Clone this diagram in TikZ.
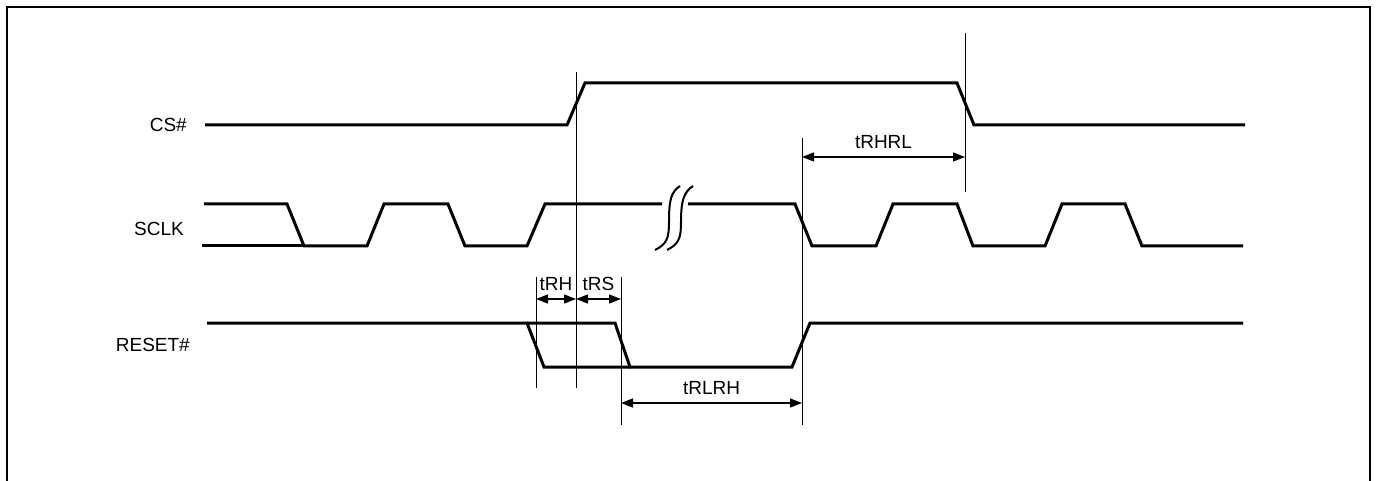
\documentclass[tikz,border=0pt]{standalone}
\usepackage{fontspec}
\setmainfont{Liberation Sans}
\usetikzlibrary{arrows.meta}

\begin{document}
\begin{tikzpicture}[
    x=1pt, y=-1pt,
    sig/.style={line width=3pt},
    guide/.style={line width=1pt},
    brk/.style={line width=2pt},
    dim/.style={line width=1.3pt, {Triangle[length=12pt,width=9pt]}-{Triangle[length=12pt,width=9pt]}},
    lbl/.style={font=\fontsize{19}{23}\selectfont, inner sep=0pt},
]

\useasboundingbox (0,0) rectangle (1377,481);
\draw[line width=2pt] (7,481) -- (7,7) -- (1370,7) -- (1370,481);

\node[lbl, anchor=east] (cs) at (187,125) {CS\#};
\node[lbl, anchor=east] (sclk) at (184,229) {SCLK};
\node[lbl, anchor=east] (reset) at (190,345) {RESET\#};

\draw[sig] (205,125) -- (567,125) -- (585,83) -- (957,83) -- (974,125) -- (1245,125);

\draw[sig] (204,204) -- (287,204) -- (304,246) -- (367,246) -- (384,204) -- (448,204) -- (465,246)
    -- (527,246) -- (545,204) -- (662,204);
\draw[sig] (202,246) -- (304,246);
\draw[sig] (688,204) -- (795,204) -- (812,246) -- (876,246) -- (893,204) -- (957,204) -- (973,246)
    -- (1045,246) -- (1062,204) -- (1125,204) -- (1142,246) -- (1243,246);
\draw[brk] (655,250) .. controls (667,244) and (669,238) .. (669,222)
    .. controls (669,200) and (671,192) .. (680,186);
\draw[brk] (667,250) .. controls (679,244) and (681,238) .. (681,222)
    .. controls (681,200) and (684,192) .. (693,186);

\draw[sig] (207,323) -- (527,323) -- (544,367) -- (630,367);
\draw[sig] (527,323) -- (615,323) -- (630,367) -- (792,367) -- (810,323) -- (1243,323);

\foreach \x/\a/\b in {536/277/388, 576/72/388, 621/277/425, 802/138/425, 965/33/192}
    \draw[guide] (\x,\a) -- (\x,\b);

\coordinate (rhrlA) at (802,157);
\coordinate (rhrlB) at (965,157);
\coordinate (rhA) at (536,299);
\coordinate (rhB) at (576,299);
\coordinate (rsB) at (621,299);
\coordinate (rlrhA) at (621,403);
\coordinate (rlrhB) at (802,403);

\draw[dim] (rhrlA) -- (rhrlB) node[lbl, midway, above=8pt] (trhrl) {tRHRL};
\draw[dim] (rhA) -- (rhB) node[lbl, midway, above=8pt] (trh) {tRH};
\draw[dim] (rhB) -- (rsB) node[lbl, midway, above=8pt] (trs) {tRS};
\draw[dim] (rlrhA) -- (rlrhB) node[lbl, midway, above=8pt] (trlrh) {tRLRH};

\end{tikzpicture}
\end{document}
